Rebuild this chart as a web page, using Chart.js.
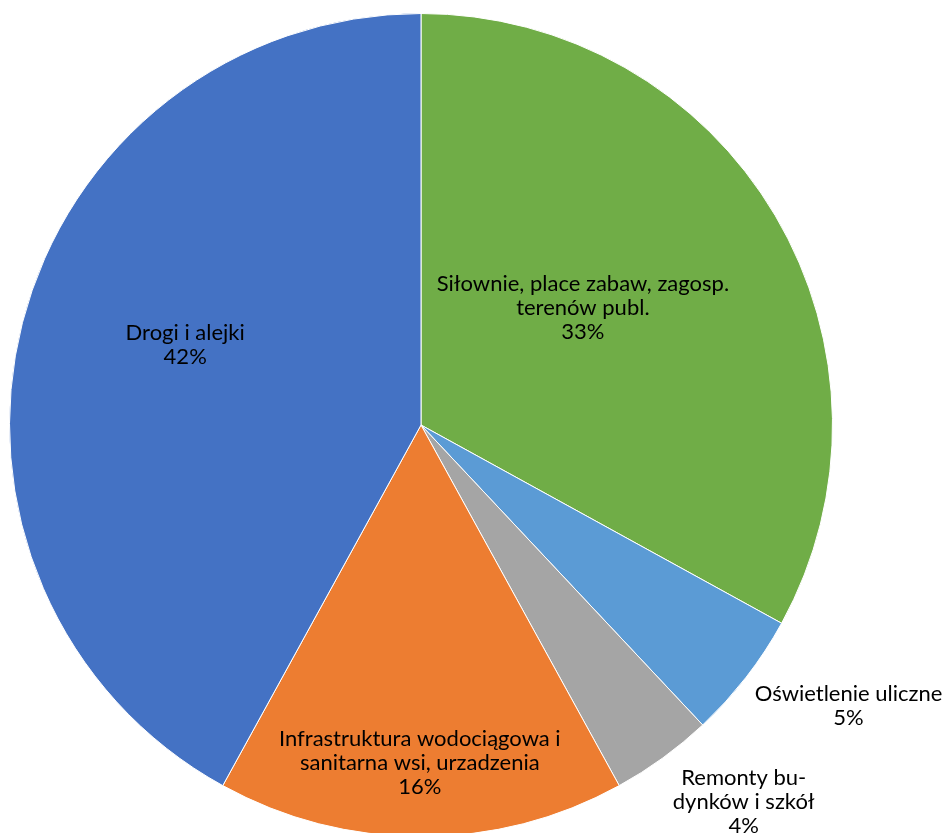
<!DOCTYPE html>
<html><head><meta charset="utf-8">
<script src="https://cdn.jsdelivr.net/npm/chart.js@4"></script>
<style>html,body{margin:0;padding:0;overflow:hidden;background:#fff;width:945px;height:833px}canvas{display:block}</style>
</head><body>
<canvas id="c" width="945" height="850"></canvas>
<script>
const categories = [
  ["Siłownie, place zabaw, zagosp.", "terenów publ."],
  ["Oświetlenie uliczne"],
  ["Remonty bu-", "dynków i szkół"],
  ["Infrastruktura wodociągowa i", "sanitarna wsi, urzadzenia"],
  ["Drogi i alejki"]
];
const values = [33, 5, 4, 16, 42];
const colors = ["#70AD47", "#5B9BD5", "#A5A5A5", "#ED7D31", "#4472C4"];
// label placement: radius fraction and angle shift (deg) relative to slice middle
const labelRadius = [0.485, 1.243, 1.205, 0.82, 0.605];
const labelShift = [-5.2, -4.5, -4.6, 0.2, 4.3];

const FONT = "22px Lato";
const LINE_H = 24;

const labelPlugin = {
  id: 'pieLabels',
  afterDatasetsDraw(chart) {
    const ctx = chart.ctx;
    const meta = chart.getDatasetMeta(0);
    const total = values.reduce((a, b) => a + b, 0);
    ctx.save();
    ctx.font = FONT;
    ctx.fillStyle = "#000";
    ctx.textAlign = "center";
    ctx.textBaseline = "middle";
    meta.data.forEach((arc, i) => {
      const p = arc.getProps(['x', 'y', 'startAngle', 'endAngle', 'outerRadius'], true);
      const mid = (p.startAngle + p.endAngle) / 2 + labelShift[i] * Math.PI / 180;
      const r = p.outerRadius * labelRadius[i];
      const cx = p.x + r * Math.cos(mid);
      const cy = p.y + r * Math.sin(mid);
      const lines = categories[i].concat([Math.round(values[i] / total * 100) + "%"]);
      const y0 = cy - (lines.length - 1) * LINE_H / 2;
      lines.forEach((t, k) => ctx.fillText(t, cx, y0 + k * LINE_H));
    });
    ctx.restore();
  }
};

new Chart(document.getElementById('c'), {
  type: 'pie',
  data: {
    labels: categories.map(c => c.join(' ')),
    datasets: [{
      data: values,
      backgroundColor: colors,
      borderColor: '#ffffff',
      borderWidth: 1
    }]
  },
  options: {
    responsive: false,
    animation: false,
    layout: { padding: { left: 9, right: 112, top: 13, bottom: 13 } },
    plugins: { legend: { display: false }, tooltip: { enabled: false } }
  },
  plugins: [labelPlugin]
});
</script>
</body></html>
